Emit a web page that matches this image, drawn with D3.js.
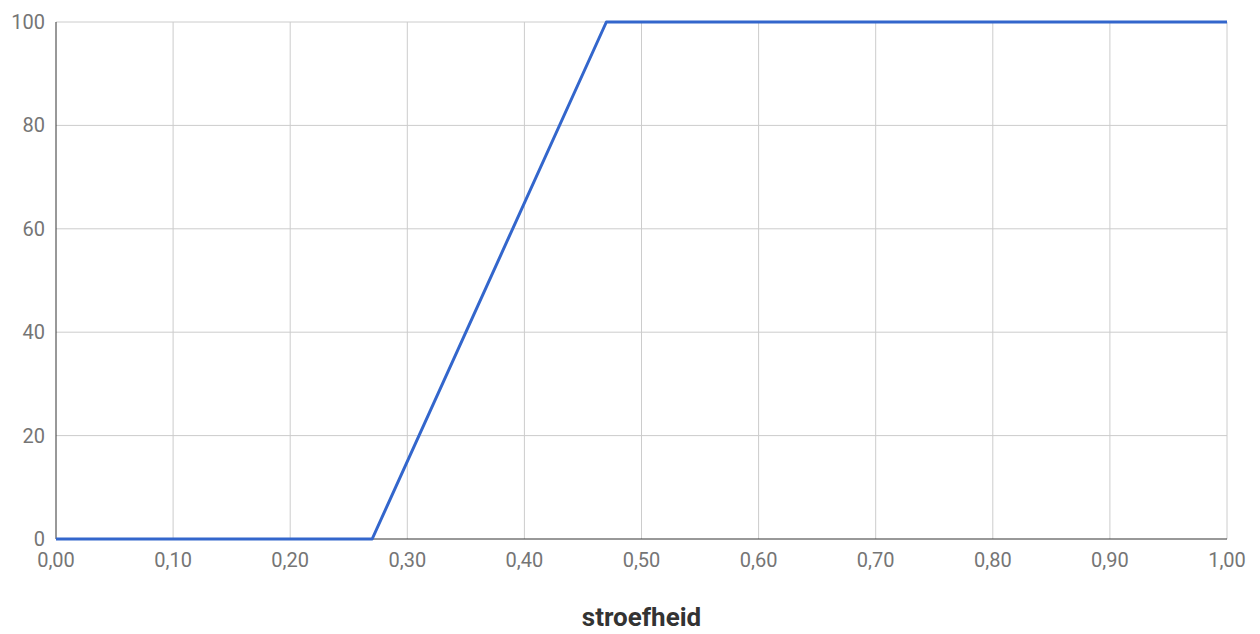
<!DOCTYPE html>
<html>
<head>
<meta charset="utf-8">
<script src="https://cdn.jsdelivr.net/npm/d3@7"></script>
<style>
  body { margin: 0; background: #fff; }
  text { font-family: Roboto, sans-serif; }
</style>
</head>
<body>
<svg id="chart"></svg>
<script>
const xValues = [0, 0.27, 0.47, 1.0];
const yValues = [0, 0, 100, 100];
const xTicks = [0, 0.1, 0.2, 0.3, 0.4, 0.5, 0.6, 0.7, 0.8, 0.9, 1.0];
const yTicks = [0, 20, 40, 60, 80, 100];
const xTitle = 'stroefheid';

const width = 1260, height = 634;
const margin = {top: 22, right: 33, bottom: 95, left: 56};

const svg = d3.select('#chart')
    .attr('width', width)
    .attr('height', height);

const x = d3.scaleLinear().domain([0, 1]).range([margin.left, width - margin.right]);
const y = d3.scaleLinear().domain([0, 100]).range([height - margin.bottom, margin.top]);

const fmt = d => d3.format('.2f')(d).replace('.', ',');

// grid
svg.append('g')
    .selectAll('line')
    .data(xTicks.slice(1))
    .join('line')
    .attr('x1', d => x(d)).attr('x2', d => x(d))
    .attr('y1', y(0)).attr('y2', y(100))
    .attr('stroke', '#cccccc').attr('stroke-width', 1);

svg.append('g')
    .selectAll('line')
    .data(yTicks.slice(1))
    .join('line')
    .attr('x1', x(0)).attr('x2', x(1))
    .attr('y1', d => y(d)).attr('y2', d => y(d))
    .attr('stroke', '#cccccc').attr('stroke-width', 1);

// axis lines
svg.append('line')
    .attr('x1', x(0)).attr('x2', x(0))
    .attr('y1', y(0)).attr('y2', y(100))
    .attr('stroke', '#333').attr('stroke-width', 1);

svg.append('line')
    .attr('x1', x(0)).attr('x2', x(1))
    .attr('y1', y(0)).attr('y2', y(0))
    .attr('stroke', '#333').attr('stroke-width', 1);

// tick labels
svg.append('g')
    .selectAll('text')
    .data(yTicks)
    .join('text')
    .attr('x', x(0) - 11)
    .attr('y', d => y(d) + 7)
    .attr('text-anchor', 'end')
    .attr('fill', '#757575')
    .style('font-size', '20px')
    .text(d => d);

svg.append('g')
    .selectAll('text')
    .data(xTicks)
    .join('text')
    .attr('x', d => x(d))
    .attr('y', y(0) + 28)
    .attr('text-anchor', 'middle')
    .attr('fill', '#757575')
    .style('font-size', '20px')
    .text(fmt);

// data line
const line = d3.line().x(d => x(d[0])).y(d => y(d[1]));
svg.append('path')
    .datum(xValues.map((v, i) => [v, yValues[i]]))
    .attr('d', line)
    .attr('fill', 'none')
    .attr('stroke', '#3366cc')
    .attr('stroke-width', 3)
    .attr('stroke-linejoin', 'round');

// axis title
svg.append('text')
    .attr('x', (x(0) + x(1)) / 2)
    .attr('y', 626)
    .attr('text-anchor', 'middle')
    .attr('fill', '#333')
    .style('font-size', '26px')
    .style('font-weight', 'bold')
    .text(xTitle);
</script>
</body>
</html>
